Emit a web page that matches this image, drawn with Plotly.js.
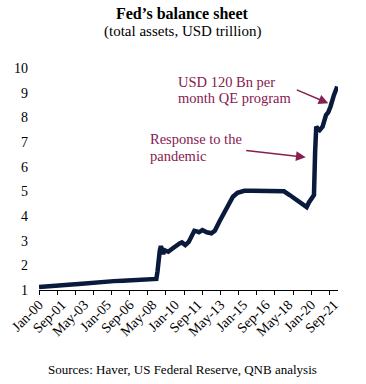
<!DOCTYPE html>
<html>
<head>
<meta charset="utf-8">
<script src="https://cdn.plot.ly/plotly-3.0.1.min.js"></script>
<style>html,body{margin:0;padding:0;background:#fff;}#chart{width:366px;height:384px;}</style>
</head>
<body>
<div id="chart"></div>
<script>
// Data (USD trillion)
const dates = [
  "2000-01-01","2000-09-01","2001-06-01","2001-10-01","2002-06-01","2002-12-01","2003-06-01","2003-12-01",
  "2004-06-01","2004-12-01","2005-07-01","2006-03-01","2006-10-01","2007-05-01","2007-12-01","2008-07-01",
  "2008-08-15","2008-09-15","2008-10-15","2008-11-15","2008-12-15","2009-01-15","2009-02-15","2009-03-15",
  "2009-04-15","2009-07-01","2009-11-01","2010-02-01","2010-05-01","2010-07-01","2010-10-01","2011-01-01",
  "2011-03-01","2011-06-01","2011-08-01","2011-10-01","2012-01-01","2012-05-01","2012-09-01","2012-12-01",
  "2013-04-01","2013-09-01","2014-01-01","2014-04-01","2014-08-01","2014-11-01","2015-02-01","2015-09-01",
  "2016-06-01","2017-03-01","2017-10-01","2018-01-01","2018-06-01","2018-12-01","2019-05-01","2019-09-01",
  "2019-11-01","2020-01-01","2020-02-15","2020-03-15","2020-04-15","2020-05-15","2020-06-15","2020-08-15",
  "2020-11-01","2021-02-01","2021-04-01","2021-06-01","2021-09-01","2021-12-01"
];
const totalAssets = [
  1.12,1.16,1.18,1.20,1.22,1.24,1.27,1.30,
  1.32,1.34,1.36,1.38,1.39,1.41,1.42,1.44,
  1.45,1.75,2.35,2.60,2.78,2.62,2.45,2.62,
  2.60,2.55,2.69,2.82,2.89,2.93,2.82,2.95,
  3.10,3.40,3.38,3.34,3.43,3.34,3.30,3.40,
  3.77,4.17,4.49,4.78,4.94,5.00,5.02,5.02,
  5.01,5.02,5.01,5.00,4.85,4.66,4.48,4.36,
  4.55,4.68,4.78,4.85,6.60,7.62,7.56,7.48,
  7.62,8.09,8.20,8.43,8.90,9.25
];
const labelDates = ["2000-01-01","2001-09-01","2003-05-01","2005-01-01","2006-09-01","2008-05-01","2010-01-01",
                    "2011-09-01","2013-05-01","2015-01-01","2016-09-01","2018-05-01","2020-01-01","2021-09-01"];
const labelTexts = ["Jan-00","Sep-01","May-03","Jan-05","Sep-06","May-08","Jan-10",
                    "Sep-11","May-13","Jan-15","Sep-16","May-18","Jan-20","Sep-21"];
const yTicks = [1,2,3,4,5,6,7,8,9,10];

const serif = "Liberation Serif, Times New Roman, serif";
const maroon = "#862050";
const navy = "#0a1a3c";

const trace = {
  x: dates, y: totalAssets, type: "scatter", mode: "lines",
  line: {color: navy, width: 4.5}, hoverinfo: "skip"
};

const layout = {
  width: 366, height: 384,
  margin: {l: 39, r: 28, t: 68, b: 94, pad: 0},
  paper_bgcolor: "#fff", plot_bgcolor: "#fff",
  showlegend: false,
  font: {family: serif, color: "#000"},
  title: {
    text: "<b>Fed’s balance sheet</b>",
    font: {family: serif, size: 16, color: "#000"},
    x: 0.497, xref: "container", xanchor: "center",
    y: 0.966, yref: "container", yanchor: "middle"
  },
  xaxis: {
    type: "date",
    range: ["2000-01-01", "2021-12-20"],
    tickmode: "array", tickvals: labelDates, ticktext: labelTexts,
    tickangle: -45, ticks: "", showgrid: false, zeroline: false,
    showline: true, linecolor: "#000", linewidth: 1,
    tickfont: {family: serif, size: 14, color: "#000"},
    minor: {ticks: "outside", ticklen: 4, tickcolor: "#000", tickwidth: 1,
            tick0: "2000-01-01", dtick: "M16", showgrid: false}
  },
  yaxis: {
    range: [1, 10], tickmode: "array", tickvals: yTicks,
    showgrid: false, zeroline: false, showline: false, ticks: "",
    ticklabelstandoff: 10,
    tickfont: {family: serif, size: 14, color: "#000"}
  },
  annotations: [
    {text: "(total assets, USD trillion)", xref: "paper", yref: "paper", x: 0.481, y: 1.1635,
     xanchor: "center", yanchor: "middle", showarrow: false, font: {family: serif, size: 15, color: "#000"}},
    {text: "Sources: Haver, US Federal Reserve, QNB analysis", xref: "paper", yref: "paper", x: 0.4795, y: -0.36,
     xanchor: "center", yanchor: "middle", showarrow: false, font: {family: serif, size: 13, color: "#000"}},
    {text: "USD 120 Bn per", xref: "paper", yref: "paper", x: 0.458, y: 0.938,
     xanchor: "left", yanchor: "middle", showarrow: false, font: {family: serif, size: 14.5, color: maroon}},
    {text: "month QE program", xref: "paper", yref: "paper", x: 0.458, y: 0.8635,
     xanchor: "left", yanchor: "middle", showarrow: false, font: {family: serif, size: 14.5, color: maroon}},
    {text: "Response to the", xref: "paper", yref: "paper", x: 0.364, y: 0.680,
     xanchor: "left", yanchor: "middle", showarrow: false, font: {family: serif, size: 14.5, color: maroon}},
    {text: "pandemic", xref: "paper", yref: "paper", x: 0.364, y: 0.605,
     xanchor: "left", yanchor: "middle", showarrow: false, font: {family: serif, size: 14.5, color: maroon}},
    {text: "", xref: "paper", yref: "paper", x: 0.9676, y: 0.841, ax: -33, ay: -14,
     showarrow: true, arrowhead: 2, arrowsize: 1.3, arrowwidth: 1.5, arrowcolor: maroon, standoff: 0},
    {text: "", xref: "paper", yref: "paper", x: 0.892, y: 0.598, ax: -61, ay: -7,
     showarrow: true, arrowhead: 2, arrowsize: 1.3, arrowwidth: 1.5, arrowcolor: maroon, standoff: 0}
  ]
};

Plotly.newPlot("chart", [trace], layout, {staticPlot: true, displayModeBar: false});
</script>
</body>
</html>
